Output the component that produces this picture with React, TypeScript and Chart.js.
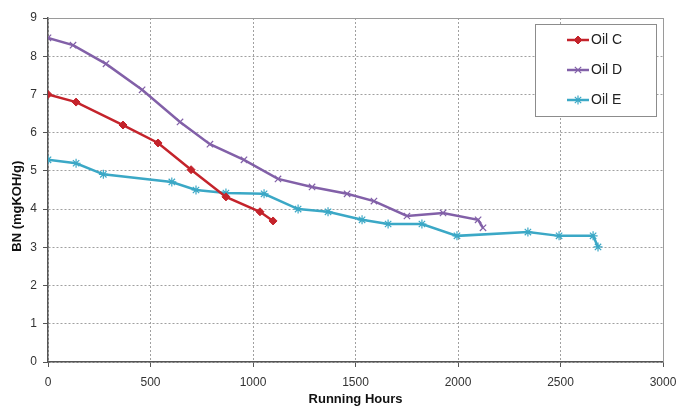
import { useEffect, useRef } from 'react';
import { Chart, registerables } from 'chart.js';
import { drawPoint } from 'chart.js/helpers';

Chart.register(...registerables);

const seriesNames = ['Oil C', 'Oil D', 'Oil E'];

const hoursC = [0, 137, 366, 537, 698, 868, 1034, 1098];
const bnC = [7.0, 6.8, 6.2, 5.73, 5.03, 4.32, 3.93, 3.69];

const hoursD = [0, 122, 283, 459, 644, 790, 956, 1122, 1288, 1459, 1590, 1751, 1927, 2098, 2122];
const bnD = [8.48, 8.29, 7.8, 7.12, 6.28, 5.7, 5.29, 4.79, 4.58, 4.4, 4.21, 3.82, 3.9, 3.72, 3.51];

const hoursE = [0, 137, 270, 604, 722, 868, 1054, 1220, 1366, 1532, 1659, 1824, 1995, 2341, 2493, 2659, 2683];
const bnE = [5.29, 5.2, 4.91, 4.71, 4.5, 4.42, 4.4, 4.0, 3.93, 3.72, 3.61, 3.61, 3.3, 3.4, 3.3, 3.3, 3.01];

const xTicksMax = 3000;
const xStep = 500;
const yTicksMax = 9;
const yStep = 1;

const colors = ['#c4232b', '#8260a8', '#3ba8c6'];
const pointStyles = ['rectRot', 'crossRot', 'star'];
const pointRadii = [4, 4.5, 4.5];

const toPoints = (xs: number[], ys: number[]) => xs.map((x, i) => ({ x, y: ys[i] }));

const framePlugin = {
  id: 'frameLegend',
  beforeDatasetsDraw(chart: any) {
    const { ctx, chartArea: a } = chart;
    ctx.save();
    ctx.strokeStyle = '#9a9a9a';
    ctx.lineWidth = 1;
    ctx.beginPath();
    ctx.moveTo(a.left, Math.round(a.top) + 0.5);
    ctx.lineTo(Math.round(a.right) + 0.5, Math.round(a.top) + 0.5);
    ctx.lineTo(Math.round(a.right) + 0.5, a.bottom);
    ctx.stroke();
    ctx.restore();
  },
  afterDraw(chart: any) {
    const { ctx, chartArea: a } = chart;
    const right = Math.round(a.right) - 7;
    const top = Math.round(a.top) + 6;
    const w = 121;
    const h = 92;
    const left = right - w;
    ctx.save();
    ctx.fillStyle = '#ffffff';
    ctx.fillRect(left, top, w, h);
    ctx.strokeStyle = '#8c8c8c';
    ctx.lineWidth = 1;
    ctx.strokeRect(left + 0.5, top + 0.5, w, h);
    chart.data.datasets.forEach((ds: any, i: number) => {
      const y = top + 16 + i * 30;
      ctx.strokeStyle = ds.borderColor;
      ctx.lineWidth = 2.5;
      ctx.beginPath();
      ctx.moveTo(left + 32, y);
      ctx.lineTo(left + 54, y);
      ctx.stroke();
      ctx.fillStyle = ds.pointBackgroundColor;
      ctx.strokeStyle = ds.pointBorderColor;
      ctx.lineWidth = ds.pointBorderWidth;
      drawPoint(ctx, { pointStyle: ds.pointStyle, radius: ds.pointRadius, borderWidth: ds.pointBorderWidth, rotation: 0 } as any, left + 43, y);
      ctx.fillStyle = '#222222';
      ctx.font = '14px "Liberation Sans", Arial, sans-serif';
      ctx.textBaseline = 'middle';
      ctx.textAlign = 'left';
      ctx.fillText(ds.label, left + 56, y);
    });
    ctx.restore();
  },
};

export default function App() {
  const ref = useRef<HTMLCanvasElement | null>(null);

  useEffect(() => {
    if (!ref.current) return;
    const series = [toPoints(hoursC, bnC), toPoints(hoursD, bnD), toPoints(hoursE, bnE)];
    const chart = new Chart(ref.current, {
      type: 'line',
      data: {
        datasets: series.map((data, i) => ({
          label: seriesNames[i],
          data,
          borderColor: colors[i],
          backgroundColor: colors[i],
          pointBackgroundColor: colors[i],
          pointBorderColor: colors[i],
          pointStyle: pointStyles[i] as any,
          pointRadius: pointRadii[i],
          pointBorderWidth: i === 0 ? 1 : 1.2,
          borderWidth: 2.5,
          tension: 0,
          fill: false,
        })),
      },
      options: {
        responsive: false,
        animation: false,
        devicePixelRatio: 1,
        layout: { padding: { top: 18, right: 17, left: 0, bottom: 0 } },
        plugins: {
          legend: { display: false },
          tooltip: { enabled: false },
        },
        scales: {
          x: {
            type: 'linear',
            min: 0,
            max: xTicksMax,
            afterFit: (s: any) => { s.height = 44; s.paddingRight = 0; s.paddingLeft = 0; },
            ticks: {
              stepSize: xStep,
              padding: 8,
              color: '#333333',
              callback: (v: any) => String(v),
              font: { size: 12, family: '"Liberation Sans", Arial, sans-serif' },
            },
            grid: {
              color: '#a0a0a0',
              lineWidth: 1,
              tickLength: 5,
              tickColor: '#555555',
              tickBorderDash: [],
            },
            border: { color: '#555555', width: 1.5, dash: [2, 2] },
            title: {
              display: true,
              text: 'Running Hours',
              color: '#111111',
              padding: 0,
              font: { size: 13, weight: 'bold', lineHeight: 1.08, family: '"Liberation Sans", Arial, sans-serif' },
            },
          },
          y: {
            type: 'linear',
            min: 0,
            max: yTicksMax,
            afterFit: (s: any) => { s.width = 48; s.paddingTop = 0; s.paddingBottom = 0; },
            ticks: {
              stepSize: yStep,
              padding: 6,
              color: '#333333',
              font: { size: 12, family: '"Liberation Sans", Arial, sans-serif' },
            },
            grid: {
              color: '#a0a0a0',
              lineWidth: 1,
              tickLength: 5,
              tickColor: '#555555',
              tickBorderDash: [],
            },
            border: { color: '#555555', width: 1.5, dash: [2, 2] },
            title: {
              display: true,
              text: 'BN (mgKOH/g)         ',
              color: '#111111',
              padding: { top: 10, bottom: 0 },
              font: { size: 13, weight: 'bold', lineHeight: 1.2, family: '"Liberation Sans", Arial, sans-serif' },
            },
          },
        },
      },
      plugins: [framePlugin],
    });
    return () => chart.destroy();
  }, []);

  return (
    <div style={{ position: 'fixed', left: 0, top: 0, width: 680, height: 406, background: '#ffffff' }}>
      <canvas ref={ref} width={680} height={406} style={{ width: 680, height: 406, display: 'block' }} />
    </div>
  );
}
